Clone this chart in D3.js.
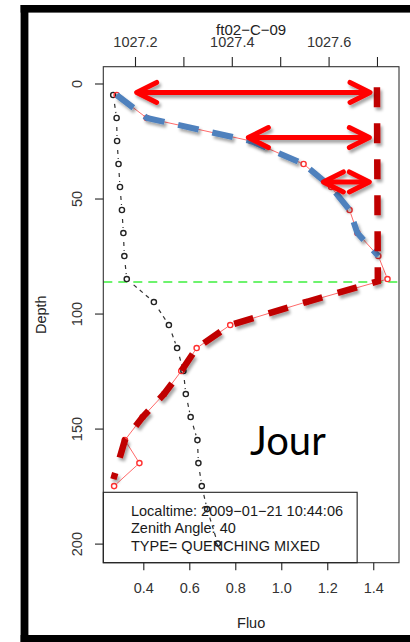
<!DOCTYPE html>
<html>
<head>
<meta charset="utf-8">
<script src="https://cdn.jsdelivr.net/npm/d3@7"></script>
<style>
  body { margin: 0; background: #fff; }
  svg { display: block; font-family: "Liberation Sans", Arial, sans-serif; }
</style>
</head>
<body>
<div id="profile-chart"></div>
<script>
// fluo profile (bottom axis) and density profile (top axis) vs depth
const fluoDepths = [5, 15, 25, 35, 45, 55, 65, 75, 85, 95, 105, 115, 125, 135, 145, 155, 165, 175];
const fluo = [0.284, 0.415, 0.868, 1.097, 1.217, 1.297, 1.331, 1.422, 1.462, 1.108, 0.778, 0.632, 0.565, 0.49, 0.397, 0.32, 0.383, 0.273];

const densityDepths = [5, 15, 25, 35, 45, 55, 65, 75, 85, 95, 105, 115, 125, 135, 145, 155, 165, 175, 185, 200];
const density = [1027.155, 1027.162, 1027.163, 1027.166, 1027.169, 1027.173, 1027.176, 1027.178, 1027.183, 1027.239,
  1027.27, 1027.287, 1027.3, 1027.305, 1027.315, 1027.329, 1027.331, 1027.338, 1027.349, 1027.371];

const fluoTicks = [0.4, 0.6, 0.8, 1.0, 1.2, 1.4];
const densityTicks = [1027.2, 1027.3, 1027.4, 1027.5, 1027.6, 1027.7];
const densityLabels = ["1027.2", "", "1027.4", "", "1027.6", ""];
const depthTicks = [0, 50, 100, 150, 200];

// annotations drawn over the plot
const mixedDepth = 86.3;
const arrowDepths = [3.9, 23.5, 42.8];
const arrowFrom = [0.371, 0.857, 1.183];
const arrowTo = [1.386, 1.383, 1.383];
const maxLineFluo = [1.416, 1.42];
const maxLineDepth = [1.6, 86];
const deepEndFluo = 0.27;
const deepEndDepth = 172;

const legendLines = ["Localtime: 2009\u221201\u221221 10:44:06", "Zenith Angle: 40", "TYPE= QUENCHING MIXED"];
const title = "ft02\u2212C\u221209";

const width = 410;
const height = 642;
const margin = { left: 103.3, top: 66.7, right: 11, bottom: 79.3 };
const chartWidth = width - margin.left - margin.right;
const chartHeight = height - margin.top - margin.bottom;

let svg;
let root;
let xScale;
let xTopScale;
let yScale;

function createChart() {
  createSvg();
  createScales();
  createMixedLine();
  createDensityProfile();
  createFluoProfile();
  createAnnotations();
  createBox();
  createLegend();
  createAxes();
  createFrame();
}

function createSvg() {
  root = d3.select("#profile-chart").append("svg").attr("width", width).attr("height", height);
  const f = root.append("defs").append("filter").attr("id", "shadow")
    .attr("x", "-20%").attr("y", "-20%").attr("width", "140%").attr("height", "160%");
  f.append("feDropShadow").attr("dx", 2).attr("dy", 3).attr("stdDeviation", 1.6)
    .attr("flood-color", "#000").attr("flood-opacity", 0.35);
  svg = root.append("g").attr("transform", "translate(" + margin.left + "," + margin.top + ")");
}

function createScales() {
  xScale = d3.scaleLinear().domain([0.226, 1.512]).range([0, chartWidth]);
  xTopScale = d3.scaleLinear().domain([1027.1345, 1027.7455]).range([0, chartWidth]);
  yScale = d3.scaleLinear().domain([-7.3, 208.3]).range([0, chartHeight]);
}

function createMixedLine() {
  svg.append("line")
    .attr("x1", 0).attr("x2", chartWidth)
    .attr("y1", yScale(mixedDepth)).attr("y2", yScale(mixedDepth))
    .attr("stroke", "#3ef03e").attr("stroke-width", 1.6).attr("stroke-dasharray", "9,6");
}

// R type="b": segments with gaps round the points
function drawTypeB(points, color, lineColor, lineWidth, dash, gap) {
  const g = svg.append("g");
  for (let i = 0; i < points.length - 1; i++) {
    const [x1, y1] = points[i];
    const [x2, y2] = points[i + 1];
    const len = Math.hypot(x2 - x1, y2 - y1);
    if (len <= gap * 2) continue;
    const ux = (x2 - x1) / len;
    const uy = (y2 - y1) / len;
    g.append("line")
      .attr("x1", x1 + ux * gap).attr("y1", y1 + uy * gap)
      .attr("x2", x2 - ux * gap).attr("y2", y2 - uy * gap)
      .attr("stroke", lineColor).attr("stroke-width", lineWidth)
      .attr("stroke-dasharray", dash).attr("stroke-dashoffset", dash ? 4 : null);
  }
  g.selectAll("circle").data(points).enter().append("circle")
    .attr("cx", (d) => d[0]).attr("cy", (d) => d[1]).attr("r", 2.6)
    .attr("fill", "none").attr("stroke", color).attr("stroke-width", 1.4);
}

function createDensityProfile() {
  const pts = density.map((v, i) => [xTopScale(v), yScale(densityDepths[i])]);
  drawTypeB(pts, "#222", "#333", 1.2, "4,4", 5);
}

function createFluoProfile() {
  const pts = fluo.map((v, i) => [xScale(v), yScale(fluoDepths[i])]);
  drawTypeB(pts, "#ff3030", "#ff6a6a", 1, null, 3.5);
}

function createAnnotations() {
  const line = d3.line().x((d) => xScale(d[0])).y((d) => yScale(d[1]));

  // surface quenching trace
  const upper = fluo.map((v, i) => [v, fluoDepths[i]]).filter((d) => d[1] <= 75);
  svg.append("path").attr("d", line(upper))
    .attr("fill", "none").attr("stroke", "#4f81bd").attr("stroke-width", 6)
    .attr("stroke-dasharray", "21,14").attr("filter", "url(#shadow)");

  // max fluo line and deep trace
  const deep = [[maxLineFluo[0], maxLineDepth[0]], [maxLineFluo[1], maxLineDepth[1]]]
    .concat(fluo.map((v, i) => [v, fluoDepths[i]]).filter((d) => d[1] >= 95 && d[1] <= 155))
    .concat([[deepEndFluo, deepEndDepth]]);
  svg.append("path").attr("d", line(deep))
    .attr("fill", "none").attr("stroke", "#c00000").attr("stroke-width", 6.5)
    .attr("stroke-dasharray", "20,16").attr("filter", "url(#shadow)");

  // double arrows
  const arrows = svg.append("g").attr("filter", "url(#shadow)")
    .attr("stroke", "#ff0000").attr("stroke-width", 5).attr("fill", "none")
    .attr("stroke-linecap", "round").attr("stroke-linejoin", "round");
  arrowDepths.forEach((dep, i) => {
    const y = yScale(dep);
    const a = xScale(arrowFrom[i]);
    const b = xScale(arrowTo[i]);
    arrows.append("line").attr("x1", a + 2).attr("x2", b - 2).attr("y1", y).attr("y2", y);
    arrows.append("polyline").attr("points", [[a + 20, y - 10], [a, y], [a + 20, y + 10]].join(" "));
    arrows.append("polyline").attr("points", [[b - 20, y - 10], [b, y], [b - 20, y + 10]].join(" "));
  });
}

function createBox() {
  svg.append("rect").attr("width", chartWidth).attr("height", chartHeight)
    .attr("fill", "none").attr("stroke", "#333").attr("stroke-width", 1.1);
}

function createLegend() {
  const top = yScale(200) - 51.3;
  svg.append("rect")
    .attr("x", 0).attr("y", top)
    .attr("width", xScale(1.33) - xScale(0.226)).attr("height", chartHeight - top)
    .attr("fill", "none").attr("stroke", "#222").attr("stroke-width", 1.1);
  svg.selectAll(".legend-line").data(legendLines).enter().append("text")
    .attr("class", "legend-line")
    .attr("x", 27.7).attr("y", (d, i) => top + 23.7 + i * 17.4)
    .attr("font-size", 14.5).attr("fill", "#1a1a1a").text((d) => d);

  svg.append("text").attr("x", 146.7).attr("y", 388.3)
    .attr("font-family", "Lato, 'Open Sans', sans-serif").attr("font-size", 40)
    .attr("fill", "#000").text("Jour");
}

function styleAxis(g) {
  g.select(".domain").remove();
  g.selectAll("line").attr("stroke", "#222").attr("stroke-width", 1.1);
  g.selectAll("text").attr("font-size", 14.5).attr("fill", "#333")
    .attr("font-family", "Liberation Sans, Arial, sans-serif");
}

function createAxes() {
  svg.append("g")
    .call(d3.axisTop(xTopScale).tickValues(densityTicks).tickSize(9.7).tickPadding(10.5)
      .tickFormat((d, i) => densityLabels[i]))
    .call(styleAxis);

  svg.append("g").attr("transform", "translate(0," + chartHeight + ")")
    .call(d3.axisBottom(xScale).tickValues(fluoTicks).tickSize(7.5).tickPadding(12.8)
      .tickFormat(d3.format(".1f")))
    .call(styleAxis);

  svg.append("g")
    .call(d3.axisLeft(yScale).tickValues(depthTicks).tickSize(8.3))
    .call(styleAxis)
    .selectAll("text")
    .attr("x", null).attr("dy", null).attr("text-anchor", "middle")
    .attr("transform", "translate(-21.3,0) rotate(-90)");

  root.append("text").attr("x", margin.left + chartWidth / 2).attr("y", 35)
    .attr("text-anchor", "middle").attr("font-size", 15).attr("fill", "#222").text(title);
  root.append("text").attr("x", margin.left + chartWidth / 2).attr("y", 628.3)
    .attr("text-anchor", "middle").attr("font-size", 14.5).attr("fill", "#222").text("Fluo");
  root.append("text").attr("transform", "translate(45.5," + (margin.top + chartHeight / 2) + ") rotate(-90)")
    .attr("text-anchor", "middle").attr("font-size", 14.5).attr("fill", "#222").text("Depth");
}

function createFrame() {
  root.append("rect").attr("x", 20.6).attr("y", 5).attr("width", 7.8).attr("height", height - 5).attr("fill", "#000");
  root.append("rect").attr("x", 20.6).attr("y", 5).attr("width", width - 20.6).attr("height", 7.6).attr("fill", "#000");
  root.append("rect").attr("x", 20.6).attr("y", 635).attr("width", width - 20.6).attr("height", 7).attr("fill", "#000");
}

createChart();
</script>
</body>
</html>
